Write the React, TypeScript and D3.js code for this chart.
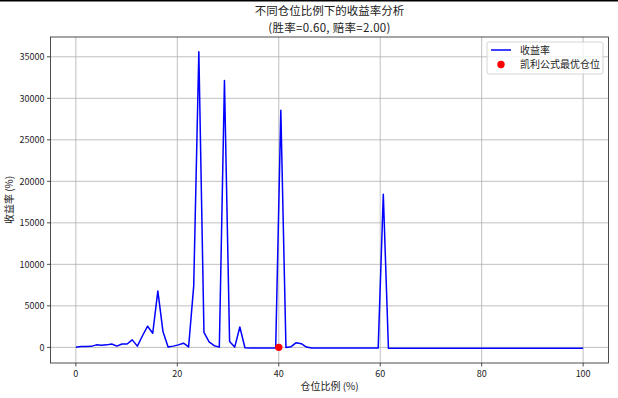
import React from "react";
import * as d3 from "d3";

const returns: number[] = [
  0, 100, 100, 120, 300, 250, 300, 400, 150, 400,
  400, 900, 150, 1400, 2550, 1700, 6800, 1900, 40, 150,
  300, 500, 50, 7400, 35600, 1800, 650, 200, 30, 32150,
  700, 30, 2450, -50, -90, -90, -90, -90, -90, -90,
  28560, -20, 80, 560, 440, 40, -90, -90, -90, -90,
  -90, -90, -90, -90, -90, -90, -90, -90, -90, -90,
  18440, -99, -99, -99, -99, -99, -99, -99, -99, -99,
  -99, -99, -99, -99, -99, -99, -99, -99, -99, -99,
  -99, -99, -99, -99, -99, -99, -99, -99, -99, -99,
  -99, -99, -99, -99, -99, -99, -99, -99, -99, -99,
];
const positionMax = 100;
const kellyPosition = 40;
const kellyReturn = 0;
const xTicks = [0, 20, 40, 60, 80, 100];
const yTicks = [0, 5000, 10000, 15000, 20000, 25000, 30000, 35000];
const titleLine1 = "不同仓位比例下的收益率分析";
const titleLine2 = "(胜率=0.60, 赔率=2.00)";
const xLabel = "仓位比例 (%)";
const yLabel = "收益率 (%)";
const legendLine = "收益率";
const legendDot = "凯利公式最优仓位";

const W = 618, H = 398;
const L = 50.5, R = 608.5, T = 37, B = 363;
const FONT = "'Noto Sans CJK SC', 'DejaVu Sans', sans-serif";

export default function App() {
  const pts = returns.map((v, i) => ({ x: (i * positionMax) / (returns.length - 1), y: v }));
  const xmin = 0, xmax = positionMax;
  const xm = (xmax - xmin) * 0.05;
  const ymin = d3.min(returns)!, ymax = d3.max(returns)!;
  const ym = (ymax - ymin) * 0.05;
  const x = d3.scaleLinear().domain([xmin - xm, xmax + xm]).range([L, R]);
  const y = d3.scaleLinear().domain([ymin - ym, ymax + ym]).range([B, T]);
  const line = d3.line<{ x: number; y: number }>().x(d => x(d.x)).y(d => y(d.y));

  return (
    <svg width={W} height={H} style={{ position: "absolute", left: 0, top: 0 }} fontFamily={FONT}>
      <rect x={0} y={0} width={W} height={H} fill="white" />
      <rect x={0} y={0} width={W} height={1.5} fill="black" />
      {xTicks.map(t => (
        <line key={"gx" + t} x1={x(t)} x2={x(t)} y1={T} y2={B} stroke="#b0b0b0" strokeWidth={0.8} />
      ))}
      {yTicks.map(t => (
        <line key={"gy" + t} x1={L} x2={R} y1={y(t)} y2={y(t)} stroke="#b0b0b0" strokeWidth={0.8} />
      ))}
      <path d={line(pts)!} fill="none" stroke="blue" strokeWidth={1.5} strokeLinejoin="round" />
      <circle cx={x(kellyPosition)} cy={y(kellyReturn)} r={3.7} fill="red" />
      <rect x={L} y={T} width={R - L} height={B - T} fill="none" stroke="#222" strokeWidth={0.8} />
      {xTicks.map(t => (
        <g key={"tx" + t}>
          <line x1={x(t)} x2={x(t)} y1={B} y2={B + 3.5} stroke="#222" strokeWidth={0.8} />
          <text x={x(t)} y={B + 14} fontSize={9} textAnchor="middle" fill="#222">{t}</text>
        </g>
      ))}
      {yTicks.map(t => (
        <g key={"ty" + t}>
          <line x1={L - 3.5} x2={L} y1={y(t)} y2={y(t)} stroke="#222" strokeWidth={0.8} />
          <text x={L - 6} y={y(t) + 3.3} fontSize={9} textAnchor="end" fill="#222">{t}</text>
        </g>
      ))}
      <text x={(L + R) / 2} y={389.5} fontSize={10} textAnchor="middle" fill="#222">{xLabel}</text>
      <text transform={`translate(13,${(T + B) / 2}) rotate(-90)`} fontSize={10} textAnchor="middle" fill="#222">{yLabel}</text>
      <text x={(L + R) / 2} y={15} fontSize={11.5} textAnchor="middle" fill="#222">{titleLine1}</text>
      <text x={(L + R) / 2} y={31.5} fontSize={11.5} textAnchor="middle" fill="#222" letterSpacing={0.3}>{titleLine2}</text>
      <g>
        <rect x={487} y={42} width={116} height={32} rx={2} fill="white" fillOpacity={0.8} stroke="#ccc" strokeWidth={0.8} />
        <line x1={491} x2={511} y1={50} y2={50} stroke="blue" strokeWidth={1.5} />
        <text x={520} y={53.5} fontSize={10} fill="#222">{legendLine}</text>
        <circle cx={501} cy={64.5} r={3.7} fill="red" />
        <text x={520} y={68} fontSize={10} fill="#222">{legendDot}</text>
      </g>
    </svg>
  );
}
